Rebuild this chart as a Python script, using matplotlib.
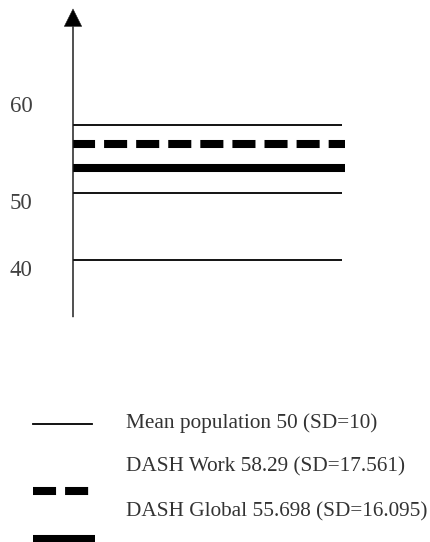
import matplotlib
matplotlib.use("Agg")
import matplotlib.pyplot as plt
from matplotlib.lines import Line2D

# Levels as drawn in the schematic (data units on the vertical scale)
sd_levels = [60, 50, 40]              # mean population +/- 1 SD
work_level = 57.25                    # DASH Work (dashed)
global_level = 53.6                   # DASH Global (thick)
tick_labels = ["60", "50", "40"]
tick_positions = [63.2, 48.8, 38.85]  # where the labels sit on the scale

legend_labels = [
    "Mean population 50 (SD=10)",
    "DASH Work 58.29 (SD=17.561)",
    "DASH Global 55.698 (SD=16.095)",
]

plt.rcParams['font.family'] = ['Liberation Serif', 'DejaVu Sans']
plt.rcParams['lines.scale_dashes'] = False

W, H = 430, 542
fig = plt.figure(figsize=(W / 100, H / 100), dpi=100)

# main scale: axis at x=73px, from y=317px up to arrow tip at y=9px
ax = fig.add_axes([73 / W, (H - 317) / H, (345 - 73) / W, (317 - 9) / H])
ax.set_xlim(0, 1)
ax.set_ylim(31.5, 77.33)
for s in ax.spines.values():
    s.set_visible(False)
ax.set_xticks([])
ax.set_yticks(tick_positions)
ax.set_yticklabels(tick_labels, fontsize=16.5, color="#404040")
ax.tick_params(axis="y", length=0, pad=29)

# vertical arrow
ax.annotate("", xy=(0, 1), xytext=(0, 0), xycoords="axes fraction",
            arrowprops=dict(facecolor="black", edgecolor="#222222", width=0.6,
                            linewidth=0.4, headwidth=12.5, headlength=12.5,
                            shrink=0),
            annotation_clip=False)

# thin mean/SD lines
for lv in sd_levels:
    ax.plot([0, 0.99], [lv, lv], color="black", lw=1.3, solid_capstyle="butt")
ax.plot([-0.005, 1.0], [work_level, work_level], color="black", lw=5.8,
        dashes=(16.6, 6.5), dash_capstyle="butt")
ax.plot([-0.005, 1.0], [global_level, global_level], color="black", lw=5.8,
        solid_capstyle="butt")

# legend drawn in pixel space
lax = fig.add_axes([0, 0, 1, 1])
lax.set_xlim(0, W)
lax.set_ylim(H, 0)
lax.axis("off")
lax.add_line(Line2D([33, 92], [424, 424], color="black", lw=1.3))
lax.add_line(Line2D([33, 90], [491, 491], color="black", lw=5.8,
                    dashes=(16.6, 6.5), dash_capstyle="butt"))
lax.add_line(Line2D([33, 95], [539, 539], color="black", lw=5.8,
                    solid_capstyle="butt"))
for lab, yy in zip(legend_labels, [423, 467, 512]):
    lax.text(126, yy, lab, fontsize=15.3, color="#333333", va="center", ha="left")

fig.savefig("out.png", dpi=100)
